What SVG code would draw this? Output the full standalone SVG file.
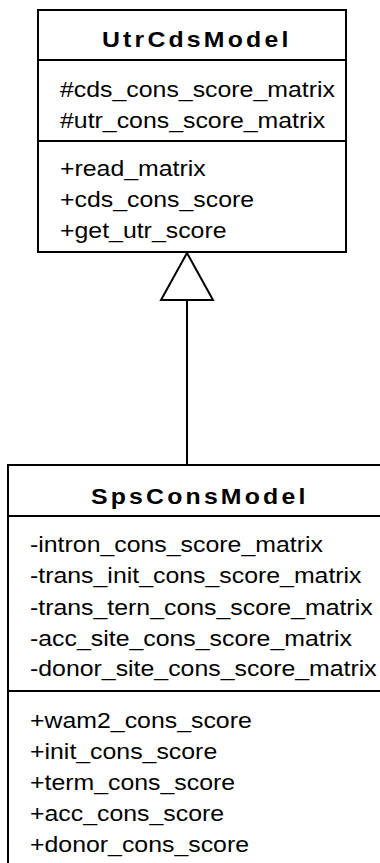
<svg xmlns="http://www.w3.org/2000/svg" width="380" height="863" viewBox="0 0 380 863">
  <style>
    .box { fill: #ffffff; stroke: #000000; stroke-width: 2; }
    .sep { stroke: #000000; stroke-width: 2; }
    .title { font-family: "Liberation Sans", Arial, Helvetica, sans-serif; font-size: 22px; font-weight: bold; letter-spacing: 2.8px; fill: #000000; }
    .member { font-family: "Liberation Sans", Arial, Helvetica, sans-serif; font-size: 22px; fill: #000000; }
    .edge { fill: none; stroke: #000000; stroke-width: 2; }
    .head { fill: #ffffff; stroke: #000000; stroke-width: 2; stroke-linejoin: miter; }
  </style>
  <rect x="0" y="0" width="380" height="863" fill="#ffffff"/>

  <!-- generalization: SpsConsModel inherits UtrCdsModel -->
  <g id="connectors">
    <line class="edge" x1="187" y1="300" x2="187" y2="465"/>
    <polygon class="head" points="187,253 161,300 213,300"/>
  </g>

  <g id="UtrCdsModel">
    <rect class="box" x="38" y="10" width="308" height="242"/>
    <line class="sep" x1="38" y1="60" x2="346" y2="60"/>
    <line class="sep" x1="38" y1="141" x2="346" y2="141"/>
    <text class="title" transform="translate(102,47) scale(1.13,1)">UtrCdsModel</text>
    <text class="member" transform="translate(60,96.5) scale(1.13,1)">#cds_cons_score_matrix</text>
    <text class="member" transform="translate(60,127.5) scale(1.13,1)">#utr_cons_score_matrix</text>
    <text class="member" transform="translate(60,175.5) scale(1.13,1)">+read_matrix</text>
    <text class="member" transform="translate(60,206.5) scale(1.13,1)">+cds_cons_score</text>
    <text class="member" transform="translate(60,237.5) scale(1.13,1)">+get_utr_score</text>
  </g>

  <g id="SpsConsModel">
    <rect class="box" x="8" y="465" width="380" height="410"/>
    <line class="sep" x1="8" y1="516" x2="388" y2="516"/>
    <line class="sep" x1="8" y1="691" x2="388" y2="691"/>
    <text class="title" transform="translate(91,504) scale(1.13,1)">SpsConsModel</text>
    <text class="member" transform="translate(30,552) scale(1.13,1)">-intron_cons_score_matrix</text>
    <text class="member" transform="translate(30,583) scale(1.13,1)">-trans_init_cons_score_matrix</text>
    <text class="member" transform="translate(30,614.5) scale(1.13,1)">-trans_tern_cons_score_matrix</text>
    <text class="member" transform="translate(30,646) scale(1.13,1)">-acc_site_cons_score_matrix</text>
    <text class="member" transform="translate(30,676) scale(1.13,1)">-donor_site_cons_score_matrix</text>
    <text class="member" transform="translate(30,728) scale(1.13,1)">+wam2_cons_score</text>
    <text class="member" transform="translate(30,759) scale(1.13,1)">+init_cons_score</text>
    <text class="member" transform="translate(30,790) scale(1.13,1)">+term_cons_score</text>
    <text class="member" transform="translate(30,820.5) scale(1.13,1)">+acc_cons_score</text>
    <text class="member" transform="translate(30,851.5) scale(1.13,1)">+donor_cons_score</text>
  </g>
</svg>
